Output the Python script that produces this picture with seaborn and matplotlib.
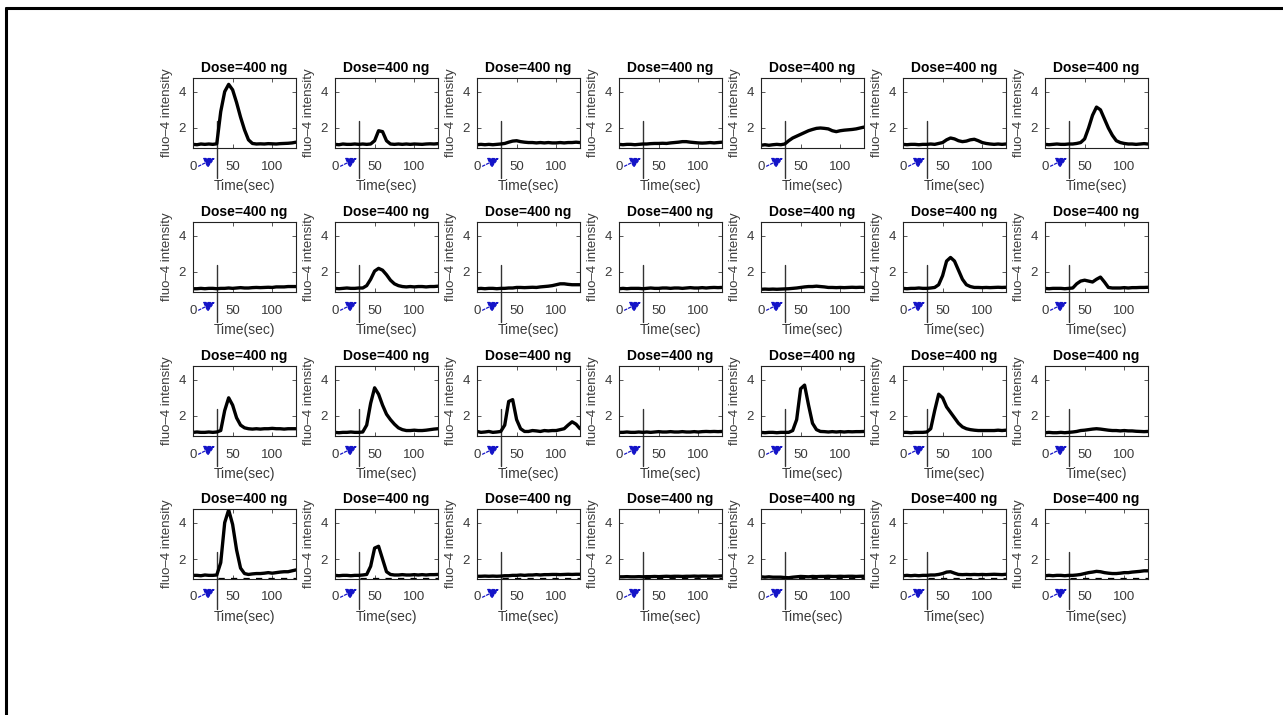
import numpy as np
import pandas as pd
import matplotlib
matplotlib.use("Agg")
import matplotlib.pyplot as plt
from matplotlib.lines import Line2D
import seaborn as sns

# sampling times (s) shared by every cell trace
time_s = [0, 5, 10, 15, 20, 25, 30, 35, 40, 45, 50, 55, 60, 65, 70, 75, 80,
          85, 90, 95, 100, 105, 110, 115, 120, 125, 130]

dose_label = "Dose=400 ng"
stim_time = 30          # agonist added at 30 s
x_ticks = [0, 50, 100]
y_ticks = [2, 4]

# fluo-4 intensity (F/F0) per cell, rows of the grid left to right
r1 = [
    [1.10,1.08,1.12,1.10,1.12,1.10,1.13,2.90,4.00,4.40,4.10,3.40,2.60,1.90,1.35,1.15,1.12,1.13,1.12,1.14,1.13,1.12,1.14,1.15,1.16,1.18,1.22],
    [1.10,1.08,1.12,1.10,1.10,1.12,1.10,1.12,1.10,1.12,1.30,1.85,1.80,1.30,1.12,1.10,1.12,1.10,1.12,1.10,1.12,1.11,1.10,1.12,1.13,1.12,1.14],
    [1.08,1.10,1.08,1.10,1.08,1.10,1.12,1.15,1.22,1.28,1.30,1.25,1.22,1.20,1.20,1.18,1.20,1.18,1.20,1.18,1.18,1.20,1.18,1.20,1.20,1.22,1.20],
    [1.10,1.08,1.10,1.10,1.08,1.10,1.12,1.12,1.14,1.15,1.15,1.16,1.15,1.18,1.20,1.22,1.25,1.25,1.22,1.20,1.18,1.17,1.18,1.20,1.18,1.20,1.22],
    [1.05,1.08,1.05,1.08,1.10,1.08,1.12,1.30,1.45,1.55,1.65,1.75,1.85,1.92,1.98,2.00,1.98,1.95,1.85,1.80,1.85,1.88,1.90,1.92,1.95,2.00,2.05],
    [1.10,1.08,1.10,1.10,1.08,1.10,1.10,1.12,1.10,1.15,1.20,1.35,1.45,1.40,1.30,1.25,1.28,1.35,1.38,1.30,1.20,1.15,1.12,1.10,1.12,1.10,1.12],
    [1.10,1.08,1.10,1.12,1.10,1.10,1.12,1.12,1.15,1.20,1.40,2.00,2.70,3.15,3.00,2.50,2.00,1.60,1.30,1.20,1.15,1.12,1.12,1.10,1.12,1.14,1.12],
]
r2 = [
    [1.08,1.08,1.10,1.08,1.10,1.10,1.08,1.10,1.10,1.12,1.10,1.12,1.14,1.12,1.12,1.14,1.15,1.14,1.15,1.16,1.15,1.18,1.18,1.18,1.20,1.20,1.20],
    [1.10,1.08,1.10,1.12,1.10,1.10,1.12,1.12,1.25,1.60,2.05,2.20,2.10,1.85,1.55,1.35,1.25,1.20,1.18,1.20,1.18,1.20,1.20,1.18,1.20,1.20,1.22],
    [1.08,1.10,1.08,1.10,1.10,1.08,1.10,1.10,1.12,1.12,1.15,1.15,1.14,1.15,1.16,1.15,1.18,1.20,1.22,1.25,1.30,1.35,1.35,1.32,1.30,1.30,1.30],
    [1.08,1.10,1.08,1.10,1.10,1.10,1.08,1.10,1.12,1.10,1.10,1.12,1.12,1.10,1.12,1.12,1.10,1.12,1.14,1.12,1.12,1.14,1.12,1.14,1.15,1.14,1.15],
    [1.05,1.06,1.05,1.06,1.05,1.06,1.07,1.08,1.10,1.12,1.15,1.18,1.20,1.20,1.22,1.20,1.18,1.15,1.15,1.14,1.15,1.14,1.15,1.16,1.15,1.16,1.15],
    [1.10,1.08,1.10,1.10,1.12,1.10,1.10,1.12,1.15,1.30,1.80,2.60,2.80,2.60,2.10,1.60,1.30,1.20,1.15,1.15,1.14,1.15,1.14,1.15,1.16,1.15,1.16],
    [1.10,1.08,1.10,1.10,1.10,1.08,1.10,1.12,1.35,1.50,1.55,1.50,1.45,1.60,1.72,1.45,1.15,1.12,1.12,1.12,1.14,1.12,1.14,1.14,1.15,1.15,1.16],
]
r3 = [
    [1.10,1.12,1.10,1.10,1.12,1.10,1.12,1.20,2.30,3.00,2.60,1.90,1.50,1.35,1.30,1.28,1.30,1.28,1.30,1.30,1.32,1.30,1.30,1.28,1.30,1.30,1.30],
    [1.10,1.08,1.10,1.10,1.12,1.10,1.10,1.12,1.50,2.70,3.55,3.20,2.60,2.10,1.80,1.55,1.35,1.25,1.20,1.20,1.22,1.20,1.20,1.22,1.25,1.28,1.30],
    [1.15,1.10,1.12,1.15,1.10,1.12,1.15,1.50,2.80,2.90,1.80,1.30,1.15,1.15,1.20,1.18,1.15,1.20,1.18,1.20,1.20,1.25,1.30,1.50,1.68,1.55,1.30],
    [1.10,1.10,1.12,1.10,1.10,1.12,1.10,1.12,1.10,1.12,1.14,1.12,1.12,1.14,1.12,1.12,1.14,1.12,1.12,1.14,1.12,1.14,1.15,1.14,1.15,1.14,1.15],
    [1.10,1.08,1.10,1.10,1.08,1.10,1.10,1.10,1.20,1.80,3.50,3.70,2.60,1.60,1.25,1.15,1.14,1.12,1.14,1.12,1.14,1.12,1.14,1.13,1.14,1.14,1.15],
    [1.10,1.10,1.08,1.10,1.10,1.10,1.12,1.30,2.30,3.20,3.00,2.50,2.20,1.90,1.60,1.40,1.30,1.25,1.22,1.20,1.20,1.20,1.20,1.20,1.22,1.20,1.22],
    [1.08,1.10,1.08,1.08,1.10,1.08,1.10,1.12,1.15,1.20,1.22,1.25,1.28,1.30,1.28,1.25,1.22,1.20,1.20,1.18,1.20,1.18,1.18,1.16,1.15,1.14,1.15],
]
r4 = [
    [1.10,1.10,1.08,1.12,1.10,1.10,1.12,1.80,4.00,4.70,3.90,2.50,1.50,1.20,1.15,1.18,1.20,1.20,1.22,1.25,1.22,1.25,1.28,1.30,1.30,1.35,1.40],
    [1.10,1.08,1.10,1.10,1.08,1.10,1.10,1.12,1.15,1.60,2.60,2.70,2.00,1.30,1.15,1.12,1.12,1.14,1.12,1.12,1.14,1.12,1.14,1.12,1.14,1.14,1.15],
    [1.05,1.05,1.06,1.05,1.06,1.05,1.06,1.08,1.08,1.10,1.10,1.12,1.10,1.12,1.12,1.14,1.12,1.14,1.14,1.15,1.15,1.14,1.15,1.16,1.15,1.16,1.16],
    [1.02,1.02,1.03,1.02,1.02,1.03,1.02,1.03,1.03,1.04,1.03,1.04,1.05,1.04,1.05,1.05,1.04,1.05,1.05,1.06,1.05,1.06,1.06,1.05,1.06,1.06,1.07],
    [1.02,1.00,1.02,1.00,1.00,1.00,0.98,0.97,1.00,1.02,1.04,1.03,1.02,1.04,1.03,1.04,1.04,1.05,1.04,1.04,1.05,1.04,1.05,1.05,1.04,1.05,1.05],
    [1.08,1.10,1.08,1.10,1.08,1.10,1.10,1.12,1.12,1.15,1.20,1.28,1.30,1.22,1.15,1.14,1.15,1.14,1.15,1.14,1.15,1.14,1.15,1.16,1.15,1.14,1.16],
    [1.08,1.10,1.08,1.10,1.10,1.08,1.10,1.10,1.12,1.15,1.20,1.25,1.28,1.32,1.30,1.25,1.22,1.20,1.20,1.22,1.25,1.25,1.28,1.30,1.32,1.35,1.35],
]
grid_rows = [r1, r2, r3, r4]

sns.set_theme(style="ticks")
plt.rcParams["font.family"] = ["Liberation Sans", "DejaVu Sans"]
plt.rcParams["xtick.direction"] = "in"
plt.rcParams["ytick.direction"] = "in"

W, H = 1283, 715
fig = plt.figure(figsize=(W / 100, H / 100), dpi=100)
fig.patch.set_facecolor("white")

# outer frame (left and top edges)
fig.add_artist(Line2D([6 / W, 6 / W], [0, 1 - 8 / H], transform=fig.transFigure,
                      color="black", lw=2.2))
fig.add_artist(Line2D([6 / W, 1], [1 - 8 / H, 1 - 8 / H], transform=fig.transFigure,
                      color="black", lw=2.2))

col_left = [193 + 142 * i for i in range(7)]
row_top = [78, 222, 366, 509]
ax_w, ax_h = 103, 70
text_grey = "#3a3a3a"

for ri, row in enumerate(grid_rows):
    for ci, vals in enumerate(row):
        l = col_left[ci] / W
        b = 1 - (row_top[ri] + ax_h) / H
        ax = fig.add_axes([l, b, ax_w / W, ax_h / H])
        df = pd.DataFrame({"t": time_s, "f": vals})
        sns.lineplot(data=df, x="t", y="f", ax=ax, color="black", lw=2.4)
        ax.set_xlim(0, 130)
        ax.set_ylim(0.9, 4.75)
        ax.set_xticks(x_ticks)
        ax.set_yticks(y_ticks)
        ax.tick_params(axis="both", which="both", top=True, right=True,
                       length=3, width=0.6, colors=text_grey, labelsize=9.5)
        ax.tick_params(axis="x", pad=9)
        ax.tick_params(axis="y", pad=5)
        for sp in ax.spines.values():
            sp.set_linewidth(0.8)
            sp.set_color("#222222")
        ax.set_title(dose_label, fontsize=10, fontweight="bold", pad=4,
                     color="black")
        ax.set_xlabel("Time(sec)", fontsize=10, color=text_grey, labelpad=5)
        ax.set_ylabel("fluo\u20134 intensity", fontsize=9.5, color=text_grey,
                      labelpad=4)

        # stimulus marker
        ax.plot([stim_time, stim_time], [-0.75, 2.4], color="#333333", lw=1.0,
                clip_on=False, zorder=1)
        ax.annotate("", xy=(stim_time - 2, 0.35), xytext=(7, -0.1),
                    xycoords="data", textcoords="data", annotation_clip=False,
                    arrowprops=dict(arrowstyle="-|>,head_length=0.55,head_width=0.28",
                                    color="#1414c8", lw=0.9, ls=(0, (2, 1.5)),
                                    shrinkA=0, shrinkB=0))
        if ri == 3:
            ax.plot([stim_time + 2, 130], [0.95, 0.95], color="black", lw=0.9,
                    ls=(0, (5, 5)))

fig.savefig("out.png", dpi=100, facecolor="white")
